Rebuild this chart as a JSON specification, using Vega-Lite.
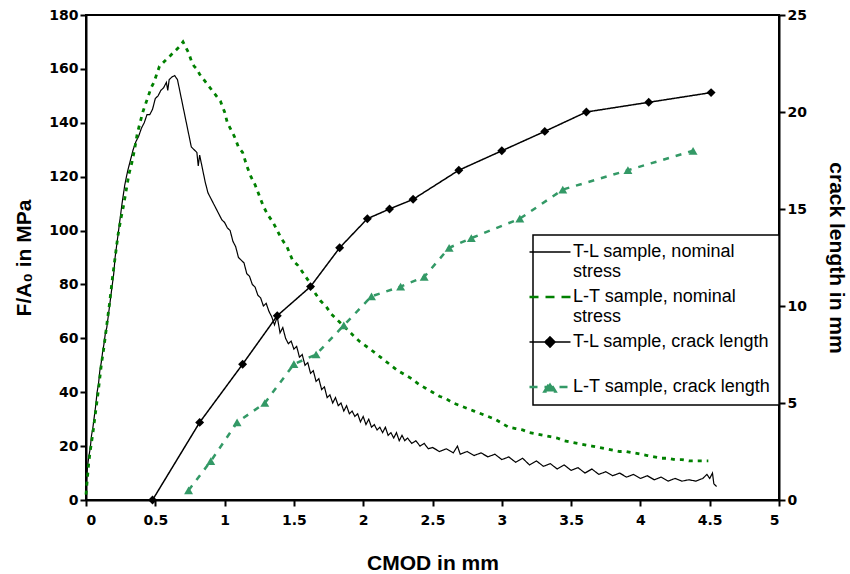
{
  "$schema": "https://vega.github.io/schema/vega-lite/v6.json",
  "width": 693,
  "height": 485,
  "autosize": {"type": "none"},
  "padding": {"left": 86, "top": 15, "right": 71, "bottom": 74},
  "background": "white",
  "datasets": {
    "stress": [
      {"cmod":0,"F":3,"s":"T-L stress"},{"cmod":0.005,"F":8,"s":"T-L stress"},{"cmod":0.01,"F":12,"s":"T-L stress"},{"cmod":0.02,"F":16,"s":"T-L stress"},{"cmod":0.03,"F":19,"s":"T-L stress"},{"cmod":0.04,"F":24,"s":"T-L stress"},{"cmod":0.05,"F":27,"s":"T-L stress"},{"cmod":0.06,"F":31,"s":"T-L stress"},{"cmod":0.07,"F":35,"s":"T-L stress"},{"cmod":0.08,"F":40,"s":"T-L stress"},{"cmod":0.09,"F":43,"s":"T-L stress"},{"cmod":0.1,"F":48,"s":"T-L stress"},{"cmod":0.11,"F":51,"s":"T-L stress"},{"cmod":0.12,"F":55,"s":"T-L stress"},{"cmod":0.13,"F":58,"s":"T-L stress"},{"cmod":0.14,"F":62,"s":"T-L stress"},{"cmod":0.15,"F":64,"s":"T-L stress"},{"cmod":0.16,"F":68,"s":"T-L stress"},{"cmod":0.17,"F":72,"s":"T-L stress"},{"cmod":0.18,"F":76,"s":"T-L stress"},{"cmod":0.19,"F":80,"s":"T-L stress"},{"cmod":0.2,"F":84,"s":"T-L stress"},{"cmod":0.21,"F":90,"s":"T-L stress"},{"cmod":0.22,"F":94,"s":"T-L stress"},{"cmod":0.24,"F":102,"s":"T-L stress"},{"cmod":0.26,"F":110,"s":"T-L stress"},{"cmod":0.28,"F":117,"s":"T-L stress"},{"cmod":0.3,"F":122,"s":"T-L stress"},{"cmod":0.32,"F":126,"s":"T-L stress"},{"cmod":0.34,"F":130,"s":"T-L stress"},{"cmod":0.36,"F":133,"s":"T-L stress"},{"cmod":0.38,"F":135,"s":"T-L stress"},{"cmod":0.4,"F":138,"s":"T-L stress"},{"cmod":0.42,"F":140,"s":"T-L stress"},{"cmod":0.44,"F":143,"s":"T-L stress"},{"cmod":0.46,"F":143,"s":"T-L stress"},{"cmod":0.48,"F":145,"s":"T-L stress"},{"cmod":0.5,"F":149,"s":"T-L stress"},{"cmod":0.52,"F":150,"s":"T-L stress"},{"cmod":0.54,"F":152,"s":"T-L stress"},{"cmod":0.56,"F":153,"s":"T-L stress"},{"cmod":0.58,"F":155,"s":"T-L stress"},{"cmod":0.59,"F":152,"s":"T-L stress"},{"cmod":0.6,"F":156,"s":"T-L stress"},{"cmod":0.62,"F":157,"s":"T-L stress"},{"cmod":0.64,"F":157.5,"s":"T-L stress"},{"cmod":0.66,"F":156,"s":"T-L stress"},{"cmod":0.68,"F":151,"s":"T-L stress"},{"cmod":0.7,"F":146,"s":"T-L stress"},{"cmod":0.72,"F":141,"s":"T-L stress"},{"cmod":0.74,"F":136,"s":"T-L stress"},{"cmod":0.76,"F":131,"s":"T-L stress"},{"cmod":0.78,"F":130,"s":"T-L stress"},{"cmod":0.8,"F":129,"s":"T-L stress"},{"cmod":0.81,"F":124,"s":"T-L stress"},{"cmod":0.82,"F":128,"s":"T-L stress"},{"cmod":0.84,"F":123,"s":"T-L stress"},{"cmod":0.86,"F":118,"s":"T-L stress"},{"cmod":0.88,"F":114,"s":"T-L stress"},{"cmod":0.9,"F":112,"s":"T-L stress"},{"cmod":0.92,"F":110,"s":"T-L stress"},{"cmod":0.94,"F":108,"s":"T-L stress"},{"cmod":0.96,"F":106,"s":"T-L stress"},{"cmod":0.98,"F":104,"s":"T-L stress"},{"cmod":1.0,"F":103,"s":"T-L stress"},{"cmod":1.02,"F":101,"s":"T-L stress"},{"cmod":1.04,"F":100,"s":"T-L stress"},{"cmod":1.06,"F":96,"s":"T-L stress"},{"cmod":1.08,"F":94,"s":"T-L stress"},{"cmod":1.1,"F":90,"s":"T-L stress"},{"cmod":1.12,"F":89,"s":"T-L stress"},{"cmod":1.14,"F":88,"s":"T-L stress"},{"cmod":1.16,"F":84,"s":"T-L stress"},{"cmod":1.18,"F":83,"s":"T-L stress"},{"cmod":1.2,"F":80,"s":"T-L stress"},{"cmod":1.22,"F":79,"s":"T-L stress"},{"cmod":1.24,"F":76,"s":"T-L stress"},{"cmod":1.26,"F":75,"s":"T-L stress"},{"cmod":1.28,"F":72,"s":"T-L stress"},{"cmod":1.3,"F":73,"s":"T-L stress"},{"cmod":1.32,"F":70,"s":"T-L stress"},{"cmod":1.34,"F":68,"s":"T-L stress"},{"cmod":1.36,"F":65,"s":"T-L stress"},{"cmod":1.38,"F":68,"s":"T-L stress"},{"cmod":1.4,"F":62,"s":"T-L stress"},{"cmod":1.42,"F":64,"s":"T-L stress"},{"cmod":1.44,"F":60,"s":"T-L stress"},{"cmod":1.46,"F":58,"s":"T-L stress"},{"cmod":1.48,"F":59,"s":"T-L stress"},{"cmod":1.5,"F":56,"s":"T-L stress"},{"cmod":1.52,"F":57,"s":"T-L stress"},{"cmod":1.54,"F":53,"s":"T-L stress"},{"cmod":1.56,"F":54,"s":"T-L stress"},{"cmod":1.58,"F":50,"s":"T-L stress"},{"cmod":1.6,"F":51,"s":"T-L stress"},{"cmod":1.62,"F":47,"s":"T-L stress"},{"cmod":1.64,"F":48,"s":"T-L stress"},{"cmod":1.66,"F":44,"s":"T-L stress"},{"cmod":1.68,"F":45,"s":"T-L stress"},{"cmod":1.7,"F":41,"s":"T-L stress"},{"cmod":1.72,"F":42,"s":"T-L stress"},{"cmod":1.74,"F":38,"s":"T-L stress"},{"cmod":1.76,"F":39,"s":"T-L stress"},{"cmod":1.78,"F":36,"s":"T-L stress"},{"cmod":1.8,"F":38,"s":"T-L stress"},{"cmod":1.82,"F":35,"s":"T-L stress"},{"cmod":1.84,"F":36,"s":"T-L stress"},{"cmod":1.86,"F":33,"s":"T-L stress"},{"cmod":1.88,"F":35,"s":"T-L stress"},{"cmod":1.9,"F":32,"s":"T-L stress"},{"cmod":1.92,"F":33,"s":"T-L stress"},{"cmod":1.94,"F":31,"s":"T-L stress"},{"cmod":1.96,"F":32,"s":"T-L stress"},{"cmod":1.98,"F":29,"s":"T-L stress"},{"cmod":2.0,"F":31,"s":"T-L stress"},{"cmod":2.02,"F":28,"s":"T-L stress"},{"cmod":2.04,"F":30,"s":"T-L stress"},{"cmod":2.06,"F":27,"s":"T-L stress"},{"cmod":2.08,"F":28,"s":"T-L stress"},{"cmod":2.1,"F":26,"s":"T-L stress"},{"cmod":2.12,"F":27,"s":"T-L stress"},{"cmod":2.14,"F":25,"s":"T-L stress"},{"cmod":2.16,"F":27,"s":"T-L stress"},{"cmod":2.18,"F":24,"s":"T-L stress"},{"cmod":2.2,"F":25,"s":"T-L stress"},{"cmod":2.22,"F":23,"s":"T-L stress"},{"cmod":2.24,"F":25,"s":"T-L stress"},{"cmod":2.26,"F":22,"s":"T-L stress"},{"cmod":2.28,"F":24,"s":"T-L stress"},{"cmod":2.3,"F":22,"s":"T-L stress"},{"cmod":2.32,"F":23,"s":"T-L stress"},{"cmod":2.35,"F":21,"s":"T-L stress"},{"cmod":2.38,"F":22,"s":"T-L stress"},{"cmod":2.41,"F":20,"s":"T-L stress"},{"cmod":2.44,"F":21,"s":"T-L stress"},{"cmod":2.47,"F":19,"s":"T-L stress"},{"cmod":2.5,"F":19.5,"s":"T-L stress"},{"cmod":2.55,"F":18,"s":"T-L stress"},{"cmod":2.6,"F":19,"s":"T-L stress"},{"cmod":2.65,"F":17.5,"s":"T-L stress"},{"cmod":2.68,"F":20,"s":"T-L stress"},{"cmod":2.7,"F":17,"s":"T-L stress"},{"cmod":2.75,"F":18,"s":"T-L stress"},{"cmod":2.8,"F":16.5,"s":"T-L stress"},{"cmod":2.85,"F":17.5,"s":"T-L stress"},{"cmod":2.9,"F":16,"s":"T-L stress"},{"cmod":2.95,"F":17,"s":"T-L stress"},{"cmod":3.0,"F":15,"s":"T-L stress"},{"cmod":3.05,"F":16,"s":"T-L stress"},{"cmod":3.1,"F":14,"s":"T-L stress"},{"cmod":3.15,"F":15.5,"s":"T-L stress"},{"cmod":3.2,"F":13,"s":"T-L stress"},{"cmod":3.25,"F":14.5,"s":"T-L stress"},{"cmod":3.3,"F":12.5,"s":"T-L stress"},{"cmod":3.35,"F":13.5,"s":"T-L stress"},{"cmod":3.4,"F":11.5,"s":"T-L stress"},{"cmod":3.45,"F":13,"s":"T-L stress"},{"cmod":3.5,"F":11,"s":"T-L stress"},{"cmod":3.55,"F":12,"s":"T-L stress"},{"cmod":3.6,"F":10,"s":"T-L stress"},{"cmod":3.65,"F":11.5,"s":"T-L stress"},{"cmod":3.7,"F":9.5,"s":"T-L stress"},{"cmod":3.75,"F":10.5,"s":"T-L stress"},{"cmod":3.8,"F":9,"s":"T-L stress"},{"cmod":3.85,"F":10,"s":"T-L stress"},{"cmod":3.9,"F":8.5,"s":"T-L stress"},{"cmod":3.95,"F":9.5,"s":"T-L stress"},{"cmod":4.0,"F":8,"s":"T-L stress"},{"cmod":4.05,"F":9,"s":"T-L stress"},{"cmod":4.1,"F":7.5,"s":"T-L stress"},{"cmod":4.15,"F":8.5,"s":"T-L stress"},{"cmod":4.2,"F":7,"s":"T-L stress"},{"cmod":4.25,"F":8,"s":"T-L stress"},{"cmod":4.3,"F":7,"s":"T-L stress"},{"cmod":4.35,"F":7.5,"s":"T-L stress"},{"cmod":4.4,"F":7,"s":"T-L stress"},{"cmod":4.45,"F":8,"s":"T-L stress"},{"cmod":4.48,"F":9.5,"s":"T-L stress"},{"cmod":4.5,"F":8,"s":"T-L stress"},{"cmod":4.52,"F":10,"s":"T-L stress"},{"cmod":4.53,"F":6,"s":"T-L stress"},{"cmod":4.55,"F":5,"s":"T-L stress"},
      {"cmod":0,"F":2,"s":"L-T stress"},{"cmod":0.01,"F":8,"s":"L-T stress"},{"cmod":0.02,"F":14,"s":"L-T stress"},{"cmod":0.03,"F":18,"s":"L-T stress"},{"cmod":0.05,"F":25,"s":"L-T stress"},{"cmod":0.07,"F":33,"s":"L-T stress"},{"cmod":0.09,"F":41,"s":"L-T stress"},{"cmod":0.11,"F":50,"s":"L-T stress"},{"cmod":0.13,"F":57,"s":"L-T stress"},{"cmod":0.15,"F":65,"s":"L-T stress"},{"cmod":0.17,"F":73,"s":"L-T stress"},{"cmod":0.19,"F":82,"s":"L-T stress"},{"cmod":0.21,"F":90,"s":"L-T stress"},{"cmod":0.23,"F":98,"s":"L-T stress"},{"cmod":0.25,"F":104,"s":"L-T stress"},{"cmod":0.27,"F":109,"s":"L-T stress"},{"cmod":0.29,"F":115,"s":"L-T stress"},{"cmod":0.31,"F":121,"s":"L-T stress"},{"cmod":0.33,"F":125,"s":"L-T stress"},{"cmod":0.35,"F":130,"s":"L-T stress"},{"cmod":0.37,"F":136,"s":"L-T stress"},{"cmod":0.39,"F":140,"s":"L-T stress"},{"cmod":0.41,"F":144,"s":"L-T stress"},{"cmod":0.43,"F":147,"s":"L-T stress"},{"cmod":0.45,"F":150,"s":"L-T stress"},{"cmod":0.47,"F":153,"s":"L-T stress"},{"cmod":0.49,"F":155,"s":"L-T stress"},{"cmod":0.51,"F":158,"s":"L-T stress"},{"cmod":0.53,"F":161,"s":"L-T stress"},{"cmod":0.55,"F":162,"s":"L-T stress"},{"cmod":0.57,"F":163,"s":"L-T stress"},{"cmod":0.59,"F":164,"s":"L-T stress"},{"cmod":0.61,"F":165,"s":"L-T stress"},{"cmod":0.63,"F":166,"s":"L-T stress"},{"cmod":0.65,"F":167,"s":"L-T stress"},{"cmod":0.67,"F":168,"s":"L-T stress"},{"cmod":0.7,"F":170,"s":"L-T stress"},{"cmod":0.72,"F":168,"s":"L-T stress"},{"cmod":0.74,"F":166,"s":"L-T stress"},{"cmod":0.76,"F":163,"s":"L-T stress"},{"cmod":0.78,"F":161,"s":"L-T stress"},{"cmod":0.8,"F":160,"s":"L-T stress"},{"cmod":0.82,"F":158,"s":"L-T stress"},{"cmod":0.85,"F":156,"s":"L-T stress"},{"cmod":0.88,"F":154,"s":"L-T stress"},{"cmod":0.91,"F":152,"s":"L-T stress"},{"cmod":0.94,"F":150,"s":"L-T stress"},{"cmod":0.97,"F":148,"s":"L-T stress"},{"cmod":1.0,"F":144,"s":"L-T stress"},{"cmod":1.02,"F":140,"s":"L-T stress"},{"cmod":1.04,"F":138,"s":"L-T stress"},{"cmod":1.07,"F":135,"s":"L-T stress"},{"cmod":1.1,"F":131,"s":"L-T stress"},{"cmod":1.13,"F":129,"s":"L-T stress"},{"cmod":1.16,"F":124,"s":"L-T stress"},{"cmod":1.19,"F":120,"s":"L-T stress"},{"cmod":1.22,"F":117,"s":"L-T stress"},{"cmod":1.25,"F":113,"s":"L-T stress"},{"cmod":1.28,"F":109,"s":"L-T stress"},{"cmod":1.31,"F":106,"s":"L-T stress"},{"cmod":1.35,"F":103,"s":"L-T stress"},{"cmod":1.38,"F":100,"s":"L-T stress"},{"cmod":1.41,"F":97,"s":"L-T stress"},{"cmod":1.45,"F":94,"s":"L-T stress"},{"cmod":1.49,"F":89,"s":"L-T stress"},{"cmod":1.53,"F":87,"s":"L-T stress"},{"cmod":1.57,"F":84,"s":"L-T stress"},{"cmod":1.61,"F":81,"s":"L-T stress"},{"cmod":1.65,"F":77,"s":"L-T stress"},{"cmod":1.69,"F":74,"s":"L-T stress"},{"cmod":1.73,"F":72,"s":"L-T stress"},{"cmod":1.77,"F":69,"s":"L-T stress"},{"cmod":1.81,"F":67,"s":"L-T stress"},{"cmod":1.85,"F":65,"s":"L-T stress"},{"cmod":1.89,"F":63,"s":"L-T stress"},{"cmod":1.93,"F":61,"s":"L-T stress"},{"cmod":1.97,"F":59,"s":"L-T stress"},{"cmod":2.01,"F":57.5,"s":"L-T stress"},{"cmod":2.05,"F":56,"s":"L-T stress"},{"cmod":2.1,"F":54,"s":"L-T stress"},{"cmod":2.15,"F":52,"s":"L-T stress"},{"cmod":2.2,"F":50,"s":"L-T stress"},{"cmod":2.25,"F":48,"s":"L-T stress"},{"cmod":2.3,"F":46.5,"s":"L-T stress"},{"cmod":2.35,"F":45,"s":"L-T stress"},{"cmod":2.4,"F":43,"s":"L-T stress"},{"cmod":2.45,"F":41.5,"s":"L-T stress"},{"cmod":2.5,"F":40,"s":"L-T stress"},{"cmod":2.55,"F":38.5,"s":"L-T stress"},{"cmod":2.6,"F":37.5,"s":"L-T stress"},{"cmod":2.65,"F":36,"s":"L-T stress"},{"cmod":2.7,"F":35,"s":"L-T stress"},{"cmod":2.75,"F":34,"s":"L-T stress"},{"cmod":2.8,"F":33,"s":"L-T stress"},{"cmod":2.85,"F":32,"s":"L-T stress"},{"cmod":2.9,"F":31,"s":"L-T stress"},{"cmod":2.95,"F":30,"s":"L-T stress"},{"cmod":3.0,"F":28.5,"s":"L-T stress"},{"cmod":3.05,"F":27,"s":"L-T stress"},{"cmod":3.1,"F":26.5,"s":"L-T stress"},{"cmod":3.15,"F":26,"s":"L-T stress"},{"cmod":3.2,"F":25,"s":"L-T stress"},{"cmod":3.25,"F":24.5,"s":"L-T stress"},{"cmod":3.3,"F":24,"s":"L-T stress"},{"cmod":3.35,"F":23.5,"s":"L-T stress"},{"cmod":3.4,"F":23,"s":"L-T stress"},{"cmod":3.45,"F":22,"s":"L-T stress"},{"cmod":3.5,"F":21.5,"s":"L-T stress"},{"cmod":3.55,"F":21,"s":"L-T stress"},{"cmod":3.6,"F":20.5,"s":"L-T stress"},{"cmod":3.65,"F":20,"s":"L-T stress"},{"cmod":3.7,"F":19.5,"s":"L-T stress"},{"cmod":3.75,"F":19,"s":"L-T stress"},{"cmod":3.8,"F":18.5,"s":"L-T stress"},{"cmod":3.85,"F":18,"s":"L-T stress"},{"cmod":3.9,"F":18,"s":"L-T stress"},{"cmod":3.95,"F":17.5,"s":"L-T stress"},{"cmod":4.0,"F":17,"s":"L-T stress"},{"cmod":4.05,"F":16.5,"s":"L-T stress"},{"cmod":4.1,"F":16,"s":"L-T stress"},{"cmod":4.15,"F":15.5,"s":"L-T stress"},{"cmod":4.2,"F":15.5,"s":"L-T stress"},{"cmod":4.25,"F":15,"s":"L-T stress"},{"cmod":4.3,"F":15,"s":"L-T stress"},{"cmod":4.35,"F":14.5,"s":"L-T stress"},{"cmod":4.4,"F":14.5,"s":"L-T stress"},{"cmod":4.45,"F":14.5,"s":"L-T stress"},{"cmod":4.49,"F":14.5,"s":"L-T stress"}
    ],
    "crack": [
      {"cmod":0.48,"a":0,"s":"T-L crack"},{"cmod":0.82,"a":4,"s":"T-L crack"},{"cmod":1.13,"a":7,"s":"T-L crack"},{"cmod":1.38,"a":9.5,"s":"T-L crack"},{"cmod":1.62,"a":11,"s":"T-L crack"},{"cmod":1.83,"a":13,"s":"T-L crack"},{"cmod":2.03,"a":14.5,"s":"T-L crack"},{"cmod":2.19,"a":15,"s":"T-L crack"},{"cmod":2.36,"a":15.5,"s":"T-L crack"},{"cmod":2.69,"a":17,"s":"T-L crack"},{"cmod":3.0,"a":18,"s":"T-L crack"},{"cmod":3.31,"a":19,"s":"T-L crack"},{"cmod":3.61,"a":20,"s":"T-L crack"},{"cmod":4.06,"a":20.5,"s":"T-L crack"},{"cmod":4.51,"a":21,"s":"T-L crack"},
      {"cmod":0.74,"a":0.5,"s":"L-T crack"},{"cmod":0.9,"a":2,"s":"L-T crack"},{"cmod":1.09,"a":4,"s":"L-T crack"},{"cmod":1.29,"a":5,"s":"L-T crack"},{"cmod":1.5,"a":7,"s":"L-T crack"},{"cmod":1.66,"a":7.5,"s":"L-T crack"},{"cmod":1.86,"a":9,"s":"L-T crack"},{"cmod":2.06,"a":10.5,"s":"L-T crack"},{"cmod":2.27,"a":11,"s":"L-T crack"},{"cmod":2.44,"a":11.5,"s":"L-T crack"},{"cmod":2.62,"a":13,"s":"L-T crack"},{"cmod":2.78,"a":13.5,"s":"L-T crack"},{"cmod":3.13,"a":14.5,"s":"L-T crack"},{"cmod":3.44,"a":16,"s":"L-T crack"},{"cmod":3.91,"a":17,"s":"L-T crack"},{"cmod":4.38,"a":18,"s":"L-T crack"}
    ]
  },
  "encoding": {
    "x": {
      "field": "cmod", "type": "quantitative",
      "scale": {"domain": [0, 5], "nice": false},
      "axis": {"title": "CMOD in mm", "values": [0,0.5,1,1.5,2,2.5,3,3.5,4,4.5,5], "format": "~g", "labelPadding": 7, "titlePadding": 25}
    },
    "color": {
      "field": "s", "type": "nominal",
      "scale": {"domain": ["T-L stress","L-T stress","T-L crack","L-T crack"], "range": ["black","#008000","black","#339966"]},
      "legend": {
        "orient": "none", "legendX": 447, "legendY": 220, "title": null,
        "direction": "vertical", "strokeColor": "black", "fillColor": "white",
        "padding": 8, "rowPadding": 6, "gridAlign": "all",
        "labelFont": "Liberation Sans", "labelFontSize": 18, "labelColor": "black", "labelOffset": 14, "labelLimit": 400,
        "symbolSize": 1681,
        "labelExpr": "datum.label == 'T-L stress' ? ['T-L sample, nominal', 'stress'] : datum.label == 'L-T stress' ? ['L-T sample, nominal', 'stress'] : datum.label == 'T-L crack' ? 'T-L sample, crack length' : 'L-T sample, crack length'",
        "encode": {
          "legend": {"update": {"strokeWidth": {"value": 1.5}}},
          "labels": {"update": {"lineHeight": {"value": 20}}},
          "symbols": {"update": {
            "shape": {"signal": "datum.value == 'T-L crack' ? 'M-1,0H1M-0.25,0L0,-0.25L0.25,0L0,0.25Z' : datum.value == 'L-T crack' ? 'M-1,0H1M-0.27,0.22L0,-0.22L0.27,0.22Z' : 'M-1,0H1'"},
            "fill": {"signal": "datum.value == 'T-L crack' ? 'black' : datum.value == 'L-T crack' ? '#339966' : 'transparent'"},
            "stroke": {"signal": "datum.value == 'L-T stress' ? '#008000' : datum.value == 'L-T crack' ? '#339966' : 'black'"},
            "strokeDash": {"signal": "datum.value == 'L-T stress' ? [9,7] : datum.value == 'L-T crack' ? [8,7] : [1,0]"},
            "strokeWidth": {"signal": "datum.value == 'L-T stress' || datum.value == 'L-T crack' ? 2.5 : 1.5"},
            "opacity": {"value": 1},
            "fillOpacity": {"value": 1},
            "strokeOpacity": {"value": 1}
          }}
        }
      }
    }
  },
  "layer": [
    {
      "data": {"name": "stress"},
      "mark": {"type": "line", "interpolate": "linear"},
      "encoding": {
        "y": {
          "field": "F", "type": "quantitative",
          "scale": {"domain": [0, 180], "nice": false},
          "axis": {"title": "F/A₀ in MPa", "values": [0,20,40,60,80,100,120,140,160,180], "orient": "left", "titlePadding": 14}
        },
        "strokeDash": {
          "field": "s", "type": "nominal",
          "scale": {"domain": ["T-L stress","L-T stress"], "range": [[1,0],[4,5]]},
          "legend": null
        },
        "strokeWidth": {
          "field": "s", "type": "nominal",
          "scale": {"domain": ["T-L stress","L-T stress"], "range": [1.2, 2.8]},
          "legend": null
        }
      }
    },
    {
      "data": {"name": "crack"},
      "encoding": {
        "y": {
          "field": "a", "type": "quantitative",
          "scale": {"domain": [0, 25], "nice": false},
          "axis": {"title": "crack length in mm", "values": [0,5,10,15,20,25], "orient": "right", "titlePadding": 19}
        }
      },
      "layer": [
        {
          "mark": {"type": "line"},
          "encoding": {
            "strokeDash": {
              "field": "s", "type": "nominal",
              "scale": {"domain": ["T-L crack","L-T crack"], "range": [[1,0],[6,7]]},
              "legend": null
            },
            "strokeWidth": {
              "field": "s", "type": "nominal",
              "scale": {"domain": ["T-L crack","L-T crack"], "range": [1.5, 2.5]},
              "legend": null
            }
          }
        },
        {
          "mark": {"type": "point", "filled": true, "opacity": 1, "size": 80},
          "encoding": {
            "shape": {
              "field": "s", "type": "nominal",
              "scale": {"domain": ["T-L crack","L-T crack"], "range": ["diamond","triangle-up"]},
              "legend": null
            }
          }
        }
      ]
    }
  ],
  "resolve": {"scale": {"y": "independent", "strokeDash": "independent", "strokeWidth": "independent"}},
  "config": {
    "view": {"stroke": "black", "strokeWidth": 2},
    "axis": {
      "grid": false, "domainColor": "black", "domainWidth": 2, "tickColor": "black", "tickWidth": 2, "tickSize": 6,
      "labelFont": "DejaVu Sans", "labelFontWeight": "bold", "labelFontSize": 14, "labelColor": "black",
      "titleFont": "Liberation Sans", "titleFontWeight": "bold", "titleFontSize": 21, "titleColor": "black"
    }
  }
}
